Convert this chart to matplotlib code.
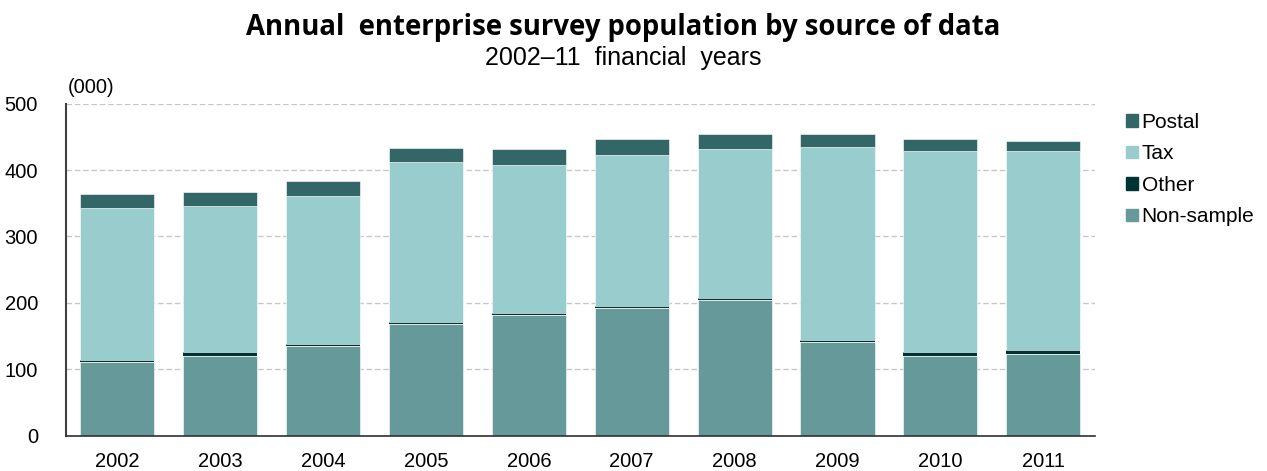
import numpy as np
import matplotlib.pyplot as plt
from matplotlib.patches import Patch

plt.rcParams['font.family'] = ['Liberation Sans', 'DejaVu Sans']

years = ['2002', '2003', '2004', '2005', '2006', '2007', '2008', '2009', '2010', '2011']
non_sample = [111, 120, 135, 168, 181, 193, 205, 141, 120, 123]
other = [3, 6, 3, 3, 3, 3, 3, 3, 6, 6]
tax = [229, 220, 223, 241, 223, 226, 223, 290, 302, 299]
postal = [21, 21, 22, 21, 24, 24, 24, 21, 18, 15]

c_postal = '#336666'
c_tax = '#99cccc'
c_other = '#003333'
c_ns = '#669999'

fig = plt.figure(figsize=(12.67, 4.71), dpi=100)
ax = fig.add_axes([0.052, 0.075, 0.812, 0.705])

x = np.arange(len(years))
w = 0.72
b1 = np.array(non_sample)
b2 = b1 + np.array(other)
b3 = b2 + np.array(tax)
ax.bar(x, non_sample, w, color=c_ns, edgecolor='white', linewidth=0.4, zorder=3)
ax.bar(x, other, w, bottom=b1, color=c_other, zorder=3)
ax.bar(x, tax, w, bottom=b2, color=c_tax, edgecolor='white', linewidth=0.4, zorder=3)
ax.bar(x, postal, w, bottom=b3, color=c_postal, edgecolor='white', linewidth=0.4, zorder=3)

ax.set_xlim(-0.5, len(years) - 0.5)
ax.set_ylim(0, 500)
ax.set_yticks([0, 100, 200, 300, 400, 500])
ax.set_xticks(x)
ax.set_xticklabels(years)
ax.tick_params(axis='x', length=0, labelsize=14.5, pad=12)
ax.tick_params(axis='y', length=0, labelsize=14.5, pad=20)
ax.yaxis.grid(True, color='#c8c8c8', linestyle=(0, (4, 2)), linewidth=1.0, zorder=0)
for s in ['top', 'right']:
    ax.spines[s].set_visible(False)
ax.spines['left'].set_color('#404040')
ax.spines['left'].set_linewidth(1.5)
ax.spines['bottom'].set_color('#303030')
ax.spines['bottom'].set_linewidth(1.2)
ax.spines['bottom'].set_zorder(4)

ax.text(0.002, 1.02, '(000)', transform=ax.transAxes, fontsize=14.5, ha='left', va='bottom')

fig.text(0.492, 0.942, 'Annual  enterprise survey population by source of data',
         ha='center', va='center', fontsize=19.8, fontweight='bold', family='Open Sans')
fig.text(0.492, 0.876, '2002\u201311  financial  years', ha='center', va='center', fontsize=18)

handles = [Patch(color=c_postal), Patch(color=c_tax), Patch(color=c_other), Patch(color=c_ns)]
labels = ['Postal', 'Tax', 'Other', 'Non-sample']
fig.legend(handles, labels, loc='upper left', bbox_to_anchor=(0.874, 0.8),
           frameon=False, fontsize=15, handlelength=0.55, handleheight=0.55,
           handletextpad=0.2, labelspacing=0.6)

fig.savefig('out.png', dpi=100)
